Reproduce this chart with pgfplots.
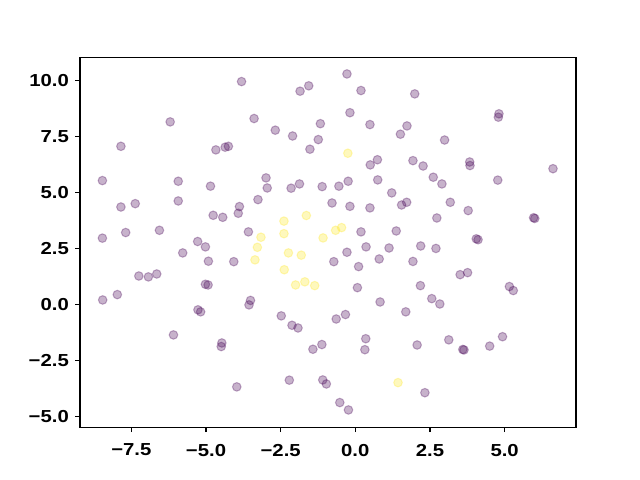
\documentclass[border=0pt]{standalone}
\usepackage{pgfplots}
\pgfplotsset{compat=1.18}
\usepackage{fontspec}
\setmainfont{Liberation Sans}[FakeStretch=1.17]
\definecolor{vpurple}{HTML}{440154}
\definecolor{vyellow}{HTML}{FDE725}
\begin{document}
\begin{tikzpicture}
\path[use as bounding box] (-57.6pt,-38.02pt) rectangle (403.2pt,307.58pt);
\begin{axis}[
  at={(0,0)}, anchor=south west,
  scale only axis, width=357.12pt, height=266.11pt,
  xmin=-9.22, xmax=7.39, ymin=-5.49, ymax=11.01,
  axis line style={black, line width=0.8pt},
  tick pos=left, tick align=outside, major tick length=3.5pt,
  every tick/.style={black, line width=0.8pt},
  xtick={-7.5,-5,-2.5,0,2.5,5},
  xticklabels={−7.5,−5.0,−2.5,0.0,2.5,5.0},
  ytick={-5,-2.5,0,2.5,5,7.5,10},
  yticklabels={−5.0,−2.5,0.0,2.5,5.0,7.5,10.0},
  ticklabel style={font=\fontsize{12.5pt}{14pt}\selectfont\bfseries},
  xticklabel style={yshift=-5pt},
  yticklabel style={xshift=-1pt},
  clip=false,
]
\addplot[only marks, mark=*, mark size=3.1pt, mark options={fill=vpurple, draw=vpurple, fill opacity=0.3, draw opacity=0.3, line width=0.75pt}] coordinates {
(-3.81,9.94) (-0.28,10.28) (-1.85,9.51) (-1.56,9.75) (0.19,9.54) (1.99,9.39)
(-6.20,8.14) (-3.39,8.29) (-0.18,8.55) (-2.68,7.77) (-2.10,7.51) (-1.17,8.06)
(-1.24,7.35) (-1.52,6.92) (0.49,8.02) (1.73,7.96) (1.51,7.59) (4.81,8.50)
(4.79,8.35) (2.99,7.33) (-7.85,7.05) (-4.67,6.89) (-4.36,7.01) (-4.25,7.05)
(0.50,6.22) (0.74,6.45) (1.93,6.41) (2.27,6.17) (3.83,6.35) (3.84,6.19)
(6.62,6.05) (-8.47,5.52) (-5.93,5.49) (-4.85,5.27) (-2.99,5.64) (-2.95,5.19)
(-2.15,5.18) (-1.87,5.37) (-1.11,5.25) (-0.55,5.27) (-0.24,5.49) (0.75,5.55)
(2.61,5.67) (2.90,5.37) (4.77,5.54) (1.22,4.97) (-7.85,4.34) (-7.37,4.49)
(-5.93,4.61) (-3.88,4.36) (-3.92,4.06) (-4.76,3.97) (-4.44,3.88) (-3.26,4.67)
(-0.78,4.52) (-0.18,4.37) (0.49,4.30) (1.55,4.43) (1.72,4.55) (3.18,4.55)
(3.78,4.18) (2.73,3.85) (5.97,3.86) (6.01,3.83) (-8.47,2.95) (-7.69,3.20)
(-6.56,3.30) (-3.58,3.23) (0.19,3.23) (1.37,3.27) (-5.28,2.80) (-5.02,2.56)
(4.05,2.92) (4.11,2.88) (2.19,2.60) (2.70,2.49) (-0.28,2.32) (0.36,2.56)
(1.13,2.51) (-5.78,2.29) (-4.92,1.92) (-4.07,1.90) (-7.25,1.26) (-6.93,1.22)
(-6.65,1.35) (-5.02,0.89) (-4.93,0.86) (-8.46,0.19) (-7.97,0.43) (-3.51,0.17)
(-3.56,-0.03) (-5.27,-0.25) (-5.18,-0.34) (-6.09,-1.37) (-4.47,-1.73) (-4.49,-1.89)
(-3.97,-3.69) (-0.72,1.90) (0.11,1.68) (0.80,2.02) (1.93,1.91) (0.07,0.74)
(0.83,0.10) (1.69,-0.34) (-2.48,-0.52) (-2.12,-0.94) (-1.92,-1.06) (-0.64,-0.66)
(-0.33,-0.46) (0.35,-1.54) (0.32,-2.03) (-1.42,-2.01) (-1.12,-1.80) (-2.21,-3.39)
(-1.09,-3.38) (-0.97,-3.56) (-0.52,-4.39) (-0.23,-4.72) (3.51,1.32) (3.76,1.41)
(2.18,0.83) (2.56,0.25) (2.83,0.01) (5.16,0.79) (5.29,0.61) (2.07,-1.82)
(3.13,-1.59) (3.60,-2.02) (3.64,-2.04) (4.50,-1.87) (4.93,-1.45) (2.33,-3.95)
};
\addplot[only marks, mark=*, mark size=3.1pt, mark options={fill=vyellow, draw=vyellow, fill opacity=0.3, draw opacity=0.3, line width=0.75pt}] coordinates {
(-0.25,6.74) (-2.39,3.71) (-1.64,3.96) (-2.39,3.15) (-3.16,2.99) (-1.08,2.96)
(-0.66,3.30) (-0.46,3.42) (-3.28,2.54) (-3.36,1.98) (-2.24,2.29) (-1.81,2.19)
(-2.38,1.54) (-2.00,0.86) (-1.69,1.00) (-1.36,0.83) (1.43,-3.50)
};
\end{axis}
\end{tikzpicture}
\end{document}
